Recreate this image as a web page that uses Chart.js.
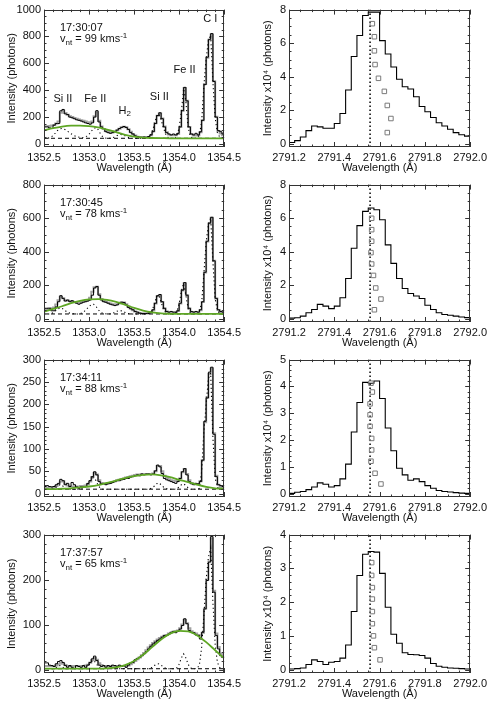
<!DOCTYPE html>
<html>
<head>
<meta charset="utf-8">
<script src="https://cdn.jsdelivr.net/npm/chart.js@4.4.1/dist/chart.umd.min.js"></script>
<style>
  body { margin: 0; background: #fff; width: 491px; height: 701px; position: relative; overflow: hidden; }
  .panel { position: absolute; }
</style>
</head>
<body>
<div class="panel" style="left:0;top:0"><canvas id="fuv1" width="245" height="175"></canvas></div>
<div class="panel" style="left:245px;top:0"><canvas id="nuv1" width="246" height="175"></canvas></div>
<div class="panel" style="left:0;top:175px"><canvas id="fuv2" width="245" height="175"></canvas></div>
<div class="panel" style="left:245px;top:175px"><canvas id="nuv2" width="246" height="175"></canvas></div>
<div class="panel" style="left:0;top:350px"><canvas id="fuv3" width="245" height="175"></canvas></div>
<div class="panel" style="left:245px;top:350px"><canvas id="nuv3" width="246" height="175"></canvas></div>
<div class="panel" style="left:0;top:525px"><canvas id="fuv4" width="245" height="176"></canvas></div>
<div class="panel" style="left:245px;top:525px"><canvas id="nuv4" width="246" height="176"></canvas></div>
<script>
"use strict";
// wavelength grids (bin start edges, last entry = right end)
const fuvWave = [
  1352.500, 1352.525, 1352.550, 1352.575, 1352.600, 1352.625, 1352.650, 1352.675, 1352.700, 1352.725,
  1352.750, 1352.775, 1352.800, 1352.825, 1352.850, 1352.875, 1352.900, 1352.925, 1352.950, 1352.975,
  1353.000, 1353.025, 1353.050, 1353.075, 1353.100, 1353.125, 1353.150, 1353.175, 1353.200, 1353.225,
  1353.250, 1353.275, 1353.300, 1353.325, 1353.350, 1353.375, 1353.400, 1353.425, 1353.450, 1353.475,
  1353.500, 1353.525, 1353.550, 1353.575, 1353.600, 1353.625, 1353.650, 1353.675, 1353.700, 1353.725,
  1353.750, 1353.775, 1353.800, 1353.825, 1353.850, 1353.875, 1353.900, 1353.925, 1353.950, 1353.975,
  1354.000, 1354.025, 1354.050, 1354.075, 1354.100, 1354.125, 1354.150, 1354.175, 1354.200, 1354.225,
  1354.250, 1354.275, 1354.300, 1354.325, 1354.350, 1354.375, 1354.400, 1354.425, 1354.450, 1354.475,
  1354.500
];
const greenWave = [1352.5, 1352.6, 1352.7, 1352.8, 1352.9, 1353.0, 1353.1, 1353.2, 1353.3, 1353.4, 1353.5,
  1353.6, 1353.7, 1353.8, 1353.9, 1354.0, 1354.1, 1354.2, 1354.3, 1354.4, 1354.5];
const nuvWave = [
  2791.200, 2791.225, 2791.250, 2791.275, 2791.300, 2791.325, 2791.350, 2791.375, 2791.400, 2791.425,
  2791.450, 2791.475, 2791.500, 2791.525, 2791.550, 2791.575, 2791.600, 2791.625, 2791.650, 2791.675,
  2791.700, 2791.725, 2791.750, 2791.775, 2791.800, 2791.825, 2791.850, 2791.875, 2791.900, 2791.925,
  2791.950, 2791.975, 2792.000
];

// Si IV window: observed counts (black), total fit (grey), narrow components (dotted), broad component (green)
const obs1 = [125,125,118,113,138,150,150,245,255,222, 217,198,193,186,178,174,169,162,155,150,
  145,155,198,246,162,125,113,89,82,77, 82,89,101,113,121,128,121,106,82,72,
  58,53,48,48,50,48,53,65,89,150, 210,230,186,125,82,72,65,72,65,77,
  125,246,420,319,125,72,65,77,65,89, 174,440,645,778,821,464,198,97,89,72, 72];
const fit1 = [130,130,132,135,140,150,165,230,245,228, 215,205,198,192,186,180,175,170,165,160,
  158,165,205,235,170,128,110,95,88,84, 85,90,100,112,122,126,122,108,88,72,
  60,52,48,46,46,46,50,62,92,152, 208,226,188,128,85,68,62,62,62,72,
  125,245,415,320,125,72,60,60,62,85, 175,445,640,775,815,465,200,95,75,62, 60];
const dot1 = [40,40,42,48,60,78,98,110,113,108, 98,86,74,64,56,50,46,44,48,56,
  70,92,112,120,105,75,52,43,40,40, 42,48,56,64,68,66,58,49,43,40,
  40,40,40,40,40,40,42,55,85,145, 205,222,180,120,72,48,41,40,40,55,
  120,240,410,315,120,52,41,40,42,65, 165,430,635,770,810,455,190,80,50,42, 40];
const green1 = [100,115,127,134,135,131,121,105,86,66,52,45,42,41,40,40,40,40,40,40,40];

const obs2 = [62,62,62,47,47,70,101,137,121,105, 111,101,107,98,92,86,92,98,101,105,
  111,140,183,192,140,111,101,98,92,86, 82,78,82,92,98,96,82,66,59,53,
  43,39,33,31,31,31,33,39,53,92, 137,144,101,62,43,39,43,39,39,47,
  92,170,215,140,62,43,39,43,39,53, 101,277,462,570,605,345,121,53,43,39, 39];
const fit2 = [55,58,60,62,66,85,110,130,122,110, 108,105,104,100,97,96,98,102,106,112,
  125,160,188,190,145,118,106,100,95,90, 86,84,86,92,98,97,86,72,60,50,
  42,37,33,31,31,31,32,36,50,90, 133,140,100,60,42,36,36,36,36,45,
  90,168,212,140,60,40,36,36,36,50, 100,275,460,568,602,345,120,52,40,36, 35];
const dot2 = [28,28,28,30,35,45,56,64,62,52, 42,35,31,29,28,28,30,35,45,58,
  72,84,86,75,55,40,32,29,28,28, 30,35,42,47,48,44,37,31,29,28,
  28,28,28,28,28,28,29,33,48,88, 133,140,98,58,38,30,28,28,28,42,
  88,165,210,138,60,36,29,28,28,45, 95,272,455,565,600,340,118,48,33,29, 28];
const green2 = [42,58,74,92,106,115,117,112,100,83,64,48,37,31,29,28,28,28,28,28,28];

const obs3 = [16,18,16,15,16,20,23,32,29,20, 23,16,25,20,15,12,15,15,16,23,
  29,38,49,42,27,22,23,20,22,23, 25,27,29,29,31,32,34,34,37,38,
  40,42,40,44,42,44,44,42,44,51, 64,60,45,34,31,29,27,25,23,27,
  34,49,56,42,27,22,20,23,22,27, 75,162,214,272,283,133,38,20,18,16, 16];
const fit3 = [14,14,14,14,15,17,21,27,28,22, 18,16,16,16,16,16,17,17,18,21,
  27,37,46,43,30,24,22,22,23,24, 26,28,30,31,33,34,36,37,39,40,
  42,43,43,44,44,44,44,44,45,50, 62,62,50,40,35,32,30,29,28,29,
  34,48,55,44,30,24,22,21,21,28, 75,160,215,268,280,135,40,20,15,13, 12];
const dot3 = [10,10,10,10,11,13,17,20,19,14, 11,10,10,10,10,10,10,11,13,18,
  26,33,36,30,19,12,10,10,10,10, 10,10,10,10,10,10,10,10,10,10,
  10,10,10,10,10,10,10,11,13,17, 22,24,20,15,12,10,10,10,10,11,
  15,20,22,18,13,10,10,10,10,12, 50,140,200,258,270,125,35,14,10,10, 10];
const green3 = [10,10,11,12,14,16,19,24,29,35,39,42,43,41,37,31,26,20,15,12,11];

const obs4 = [15,15,10,9,7,13,18,20,16,9, 5,9,5,3,9,7,5,9,5,10,
  16,24,30,20,10,7,9,5,9,7, 10,9,7,10,7,9,5,10,15,16,
  22,25,27,31,35,40,46,52,57,61, 65,68,72,76,76,79,83,85,82,85,
  90,98,113,102,87,83,82,77,76,68, 83,135,198,239,296,172,76,46,31,27, 27];
const fit4 = [8,8,8,8,8,9,12,15,13,10, 8,8,8,8,8,8,8,8,9,11,
  15,21,26,22,14,10,8,8,8,8, 8,8,8,8,8,8,8,9,12,15,
  19,23,27,32,37,43,49,54,59,63, 67,70,73,75,77,80,82,84,85,87,
  92,100,110,103,92,85,82,80,77,75, 82,135,200,240,292,175,80,50,35,28, 26];
const dot4 = [2,2,2,2,2,3,6,9,7,3, 2,2,2,2,2,2,2,2,3,6,
  11,18,21,15,7,3,2,2,2,2, 2,2,2,2,2,2,2,2,2,2,
  2,2,2,2,2,2,2,3,5,9, 12,13,10,6,3,2,2,2,2,4,
  12,26,35,26,12,4,2,2,3,10, 50,120,200,250,270,150,55,16,5,2, 2];
const green4 = [2,2,2,2,2,2,2,3,5,10,19,33,50,67,80,86,85,76,61,43,25];

const background = [40, 28, 10, 2];
const obsTimes = ["17:30:07", "17:30:45", "17:34:11", "17:37:57"];
const vnt = [99, 78, 88, 65];

// Mg II k window (x10^4 photons)
const mg1 = [0.07,0.18,0.4,0.78,1.05,1.0,0.92,0.92,1.2,1.8, 3.2,5.2,6.45,7.65,7.85,7.85,6.15,5.35,4.57,3.84,
  3.4,3.26,2.8,2.22,1.9,1.56,1.25,1.05,0.86,0.66, 0.53,0.45,0.45];
const mg2 = [0.03,0.05,0.15,0.35,0.55,0.85,0.75,0.6,0.75,1.25, 2.4,4.2,5.55,6.4,6.6,6.5,5.9,4.4,3.3,2.4,
  1.8,1.5,1.35,1.2,0.8,0.55,0.35,0.25,0.2,0.15, 0.1,0.06,0.06];
const mg3 = [0.01,0.05,0.08,0.15,0.25,0.4,0.35,0.25,0.3,0.55, 1.1,2.3,3.4,4.15,4.12,4.2,3.55,2.45,1.6,0.95,
  0.7,0.5,0.55,0.45,0.3,0.2,0.12,0.08,0.06,0.04, 0.02,0.01,0.01];
const mg4 = [0.02,0.03,0.05,0.15,0.29,0.24,0.15,0.22,0.24,0.34, 0.73,1.72,2.79,3.42,3.5,3.48,2.85,1.85,1.05,0.78,
  0.5,0.45,0.44,0.42,0.34,0.18,0.1,0.07,0.05,0.04, 0.03,0.02,0.02];
const restWave = [2791.558, 2791.558, 2791.558, 2791.558];

// open squares
const sq1x = [2791.568, 2791.577, 2791.577, 2791.580, 2791.595, 2791.621, 2791.634, 2791.650, 2791.634];
const sq1y = [7.16, 6.38, 5.54, 4.72, 3.90, 3.12, 2.28, 1.50, 0.66];
const sq2x = [2791.565, 2791.565, 2791.565, 2791.562, 2791.565, 2791.573, 2791.583, 2791.606, 2791.577];
const sq2y = [5.99, 5.31, 4.62, 3.94, 3.26, 2.58, 1.83, 1.17, 0.53];
const sq3x = [2791.562, 2791.568, 2791.558, 2791.558, 2791.558, 2791.565, 2791.565, 2791.562, 2791.580, 2791.606];
const sq3y = [4.12, 3.79, 3.35, 2.94, 2.51, 2.06, 1.63, 1.21, 0.76, 0.36];
const sq4x = [2791.565, 2791.565, 2791.568, 2791.568, 2791.568, 2791.568, 2791.573, 2791.577, 2791.602];
const sq4y = [3.17, 2.79, 2.43, 2.09, 1.72, 1.36, 1.00, 0.65, 0.29];

// axis ticks
const fuvTicks = [1352.5, 1353.0, 1353.5, 1354.0, 1354.5];
const nuvTicks = [2791.2, 2791.4, 2791.6, 2791.8, 2792.0];
const fuvYTicks = [[0,200,400,600,800,1000], [0,200,400,600,800], [0,50,100,150,200,250,300], [0,100,200,300]];
const nuvYTicks = [[0,2,4,6,8], [0,2,4,6,8], [0,1,2,3,4,5], [0,1,2,3,4]];

const FONT = "'Liberation Sans', Arial, Helvetica, sans-serif";
Chart.defaults.font.family = FONT;
Chart.defaults.font.size = 11;
Chart.defaults.color = "#111";

const xy = (xs, ys) => xs.map((x, i) => ({x, y: ys[i]}));

// IDL style box with inward ticks on all four sides
function tickMarks(ctx, scale, nMinor, a, horiz) {
    const majors = scale.ticks.map(t => t.value);
    const step = (majors[1] - majors[0]) / nMinor;
    const vals = [];
    for (let v = majors[0]; v <= scale.max + 1e-9; v += step) vals.push(v);
    for (let v = majors[0] - step; v >= scale.min - 1e-9; v -= step) vals.push(v);
    vals.forEach(v => {
        const major = majors.some(m => Math.abs(m - v) < step / 10);
        const len = major ? 5 : 2.5;
        const p = Math.round(scale.getPixelForValue(v)) + 0.5;
        ctx.beginPath();
        if (horiz) {
            ctx.moveTo(p, a.bottom); ctx.lineTo(p, a.bottom - len);
            ctx.moveTo(p, a.top); ctx.lineTo(p, a.top + len);
        } else {
            ctx.moveTo(a.left, p); ctx.lineTo(a.left + len, p);
            ctx.moveTo(a.right, p); ctx.lineTo(a.right - len, p);
        }
        ctx.stroke();
    });
}
const frameTicks = {
    id: "frameTicks",
    afterDatasetsDraw(chart, args, opts) {
        const {ctx, chartArea: a} = chart;
        ctx.save();
        ctx.strokeStyle = "#333";
        ctx.lineWidth = 1;
        ctx.strokeRect(Math.round(a.left) + 0.5, Math.round(a.top) + 0.5,
            Math.round(a.right - a.left) - 1, Math.round(a.bottom - a.top) - 1);
        tickMarks(ctx, chart.scales.x, opts.xMinor, a, true);
        tickMarks(ctx, chart.scales.y, opts.yMinor, a, false);
        ctx.restore();
    }
};

// text with sub/superscripts: parts = [[text, "sub"|"sup"|null], ...]
function richWidth(ctx, parts) {
    let w = 0;
    parts.forEach(([t, k]) => { ctx.font = (k ? 8 : 11) + "px " + FONT; w += ctx.measureText(t).width; });
    return w;
}
function drawRich(ctx, x, y, parts) {
    parts.forEach(([t, k]) => {
        ctx.font = (k ? 8 : 11) + "px " + FONT;
        const dy = k === "sub" ? 3 : k === "sup" ? -4 : 0;
        ctx.fillText(t, x, y + dy);
        x += ctx.measureText(t).width;
    });
}
const notes = {
    id: "notes",
    afterDraw(chart, args, opts) {
        const {ctx, chartArea: a, scales: {x, y}} = chart;
        ctx.save();
        ctx.fillStyle = "#111";
        ctx.textAlign = "left";
        ctx.textBaseline = "alphabetic";
        drawRich(ctx, a.left + 16, a.top + 21, [[opts.time, null]]);
        drawRich(ctx, a.left + 16, a.top + 32, [["v", null], ["nt", "sub"], [" = " + opts.vnt + " kms", null], ["-1", "sup"]]);
        ctx.textBaseline = "middle";
        (opts.lines || []).forEach(l => {
            const w = richWidth(ctx, l.parts);
            drawRich(ctx, x.getPixelForValue(l.x) - w / 2, y.getPixelForValue(l.y), l.parts);
        });
        ctx.restore();
    }
};

function xAxis(min, max, ticks) {
    return {
        type: "linear", min, max,
        afterBuildTicks: s => { s.ticks = ticks.map(v => ({value: v})); },
        afterFit: s => { s.height = 28; },
        grid: {display: false, drawTicks: false},
        border: {display: false},
        ticks: {padding: 4, maxRotation: 0, autoSkip: false, callback: v => Number(v).toFixed(1)},
        title: {display: true, text: "Wavelength (Å)", padding: {top: 0, bottom: 0}}
    };
}
function yAxis(min, max, ticks, title, titlePad) {
    return {
        type: "linear", min, max,
        afterBuildTicks: s => { s.ticks = ticks.map(v => ({value: v})); },
        afterFit: s => { s.width = 44; },
        grid: {display: false, drawTicks: false},
        border: {display: false},
        ticks: {padding: 3, autoSkip: false, callback: v => String(v)},
        title: {display: true, text: title, padding: {top: titlePad, bottom: 0}}
    };
}
const baseOptions = (scales, pluginOpts) => ({
    responsive: false,
    animation: false,
    layout: {padding: {top: 6, right: 20, left: 0, bottom: 0}},
    plugins: Object.assign({legend: {display: false}, tooltip: {enabled: false}}, pluginOpts),
    scales
});

const fuvObs = [obs1, obs2, obs3, obs4];
const fuvFit = [fit1, fit2, fit3, fit4];
const fuvDot = [dot1, dot2, dot3, dot4];
const fuvGreen = [green1, green2, green3, green4];
const fuvYMax = [1000, 800, 300, 300];
const fuvMinor = [4, 4, 5, 5];
const lineLabels = [
    {parts: [["Si II", null]], x: 1352.71, y: 331},
    {parts: [["Fe II", null]], x: 1353.07, y: 331},
    {parts: [["H", null], ["2", "sub"]], x: 1353.395, y: 244},
    {parts: [["Si II", null]], x: 1353.78, y: 346},
    {parts: [["Fe II", null]], x: 1354.06, y: 549},
    {parts: [["C I", null]], x: 1354.345, y: 927}
];

fuvObs.forEach((obs, i) => {
    const ymax = fuvYMax[i];
    new Chart(document.getElementById("fuv" + (i + 1)), {
        type: "line",
        data: {
            datasets: [
                {data: xy(greenWave, fuvGreen[i]), borderColor: "#5ea624", borderWidth: 1.8,
                    cubicInterpolationMode: "monotone", pointRadius: 0},
                {data: xy([1352.5, 1354.5], [background[i], background[i]]), borderColor: "#000",
                    borderWidth: 1, borderDash: [4, 3], pointRadius: 0},
                {data: xy(fuvWave, fuvDot[i]), borderColor: "#000", borderWidth: 1.1,
                    borderDash: [1.2, 2.8], pointRadius: 0},
                {data: xy(fuvWave, obs), borderColor: "#000", borderWidth: 1, stepped: "before", pointRadius: 0, clip: 0},
                {data: xy(fuvWave, fuvFit[i]), borderColor: "#a2a2a2", borderWidth: 2, stepped: "before", pointRadius: 0, clip: 0}
            ]
        },
        options: baseOptions({
            x: xAxis(1352.5, 1354.5, fuvTicks),
            y: yAxis(-0.025 * ymax, ymax, fuvYTicks[i], "Intensity (photons)", 5)
        }, {
            frameTicks: {xMinor: 5, yMinor: fuvMinor[i]},
            notes: {time: obsTimes[i], vnt: vnt[i], lines: i === 0 ? lineLabels : []}
        }),
        plugins: [frameTicks, notes]
    });
});

const nuvProfiles = [mg1, mg2, mg3, mg4];
const nuvSqX = [sq1x, sq2x, sq3x, sq4x];
const nuvSqY = [sq1y, sq2y, sq3y, sq4y];
const nuvYMax = [8, 8, 5, 4];
const nuvMinor = [4, 4, 5, 5];

nuvProfiles.forEach((prof, i) => {
    const ymax = nuvYMax[i];
    new Chart(document.getElementById("nuv" + (i + 1)), {
        type: "line",
        data: {
            datasets: [
                {data: xy(nuvSqX[i], nuvSqY[i]), showLine: false, pointStyle: "rect", pointRadius: 3.2,
                    pointBorderColor: "#7a7a7a", pointBackgroundColor: "rgba(0,0,0,0)", pointBorderWidth: 1},
                {data: xy([restWave[i], restWave[i]], [-0.025 * ymax, ymax]), borderColor: "#000",
                    borderWidth: 1.5, borderDash: [1.5, 2.5], pointRadius: 0},
                {data: xy(nuvWave, prof), borderColor: "#000", borderWidth: 1.1, stepped: "before", pointRadius: 0, clip: 0}
            ]
        },
        options: baseOptions({
            x: xAxis(2791.2, 2792.0, nuvTicks),
            y: yAxis(-0.025 * ymax, ymax, nuvYTicks[i], "Intensity x10⁴ (photons)", 16)
        }, {
            frameTicks: {xMinor: 4, yMinor: nuvMinor[i]}
        }),
        plugins: [frameTicks]
    });
});
</script>
</body>
</html>
